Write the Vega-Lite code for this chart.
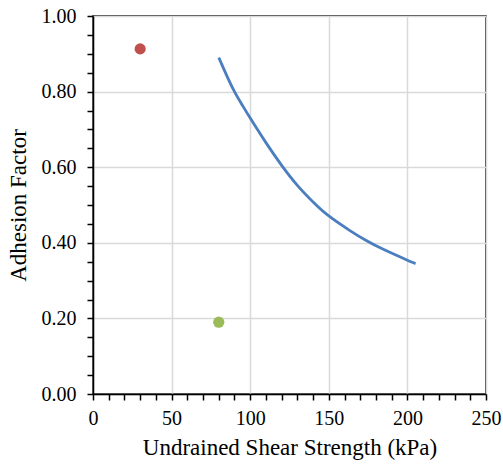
{
  "$schema": "https://vega.github.io/schema/vega-lite/v6.json",
  "width": 393,
  "height": 378,
  "autosize": {"type": "none"},
  "padding": {"left": 93, "top": 16, "right": 17, "bottom": 72},
  "background": "white",
  "config": {
    "view": {"stroke": "black", "strokeWidth": 1.5},
    "font": "Liberation Serif, Times New Roman, serif",
    "axis": {
      "labelFont": "Liberation Serif, Times New Roman, serif",
      "titleFont": "Liberation Serif, Times New Roman, serif",
      "labelFontSize": 20,
      "titleFontSize": 23,
      "titleFontWeight": "normal",
      "labelColor": "black",
      "titleColor": "black",
      "domainColor": "black",
      "domainWidth": 1.5,
      "tickColor": "black",
      "tickWidth": 1.5,
      "tickSize": 6,
      "labelOverlap": false,
      "labelFlush": false
    }
  },
  "datasets": {
    "curve": [
      {"cu": 80, "alpha": 0.89},
      {"cu": 85, "alpha": 0.843},
      {"cu": 90, "alpha": 0.80},
      {"cu": 95, "alpha": 0.764},
      {"cu": 100, "alpha": 0.73},
      {"cu": 110, "alpha": 0.665},
      {"cu": 120, "alpha": 0.605},
      {"cu": 130, "alpha": 0.552},
      {"cu": 140, "alpha": 0.508},
      {"cu": 150, "alpha": 0.471},
      {"cu": 163.2, "alpha": 0.433},
      {"cu": 173.8, "alpha": 0.406},
      {"cu": 185, "alpha": 0.382},
      {"cu": 200, "alpha": 0.354},
      {"cu": 205.2, "alpha": 0.345}
    ],
    "points": [
      {"cu": 30, "alpha": 0.913, "group": "A"},
      {"cu": 80, "alpha": 0.19, "group": "B"}
    ]
  },
  "encoding": {
    "x": {
      "field": "cu", "type": "quantitative",
      "scale": {"domain": [0, 250], "nice": false},
      "title": "Undrained Shear Strength (kPa)",
      "axis": {
        "values": [0,10,20,30,40,50,60,70,80,90,100,110,120,130,140,150,160,170,180,190,200,210,220,230,240,250],
        "labelExpr": "datum.value % 50 === 0 ? datum.label : ''",
        "grid": true,
        "gridColor": {"condition": {"test": "datum.value % 50 === 0", "value": "#d9d9d9"}, "value": "transparent"},
        "gridWidth": 1.5,
        "labelPadding": 8,
        "titlePadding": 8,
        "encode": {
          "ticks": {
            "update": {
              "y": {"value": -6},
              "y2": {"signal": "datum.value % 50 === 0 ? 6 : 0"}
            }
          }
        }
      }
    },
    "y": {
      "field": "alpha", "type": "quantitative",
      "scale": {"domain": [0, 1], "nice": false},
      "title": "Adhesion Factor",
      "axis": {
        "values": [0,0.05,0.1,0.15,0.2,0.25,0.3,0.35,0.4,0.45,0.5,0.55,0.6,0.65,0.7,0.75,0.8,0.85,0.9,0.95,1],
        "format": ".2f",
        "labelExpr": "round(datum.value * 20) % 4 === 0 ? datum.label : ''",
        "grid": true,
        "gridColor": {"condition": {"test": "round(datum.value * 20) % 4 === 0", "value": "#d9d9d9"}, "value": "transparent"},
        "gridWidth": 1.5,
        "labelPadding": 11,
        "titlePadding": 11,
        "encode": {
          "ticks": {
            "update": {
              "x": {"value": 6},
              "x2": {"signal": "round(datum.value * 20) % 4 === 0 ? -6 : 0"}
            }
          }
        }
      }
    }
  },
  "layer": [
    {
      "data": {"name": "curve"},
      "mark": {"type": "line", "color": "#4A7EBF", "strokeWidth": 2.8, "interpolate": "natural"}
    },
    {
      "data": {"name": "points"},
      "mark": {"type": "point", "filled": true, "opacity": 1, "size": 125},
      "encoding": {
        "color": {
          "field": "group", "type": "nominal",
          "scale": {"domain": ["A", "B"], "range": ["#C0504D", "#9BBB59"]},
          "legend": null
        }
      }
    }
  ]
}
